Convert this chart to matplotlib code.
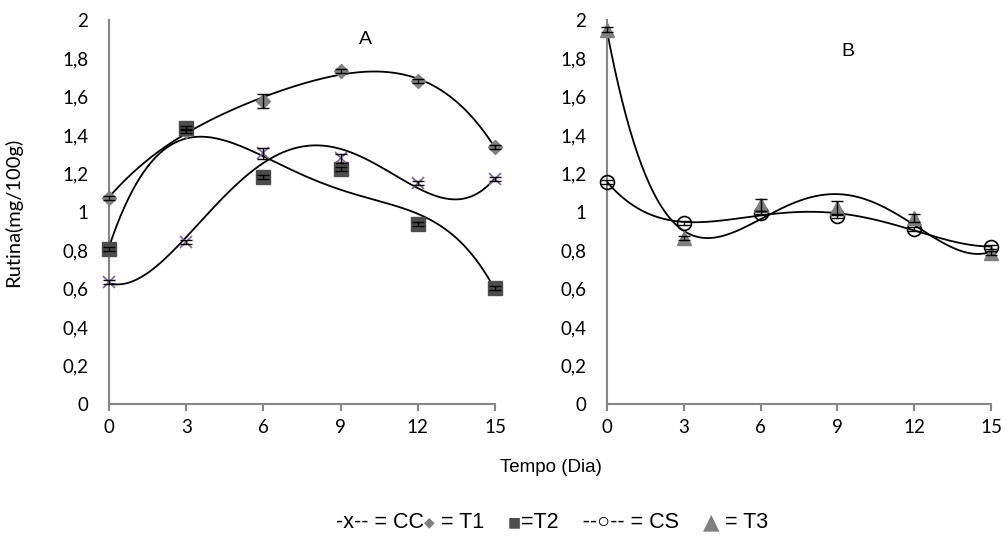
import numpy as np
import matplotlib
matplotlib.use("Agg")
import matplotlib.pyplot as plt

# ---- data ----
days = [0, 3, 6, 9, 12, 15]
cc = [0.634, 0.844, 1.305, 1.279, 1.149, 1.172]
cc_err = [0.01, 0.01, 0.03, 0.025, 0.01, 0.01]
t1 = [1.075, 1.42, 1.578, 1.736, 1.684, 1.337]
t1_err = [0.01, 0.01, 0.036, 0.01, 0.01, 0.01]
t2 = [0.807, 1.436, 1.184, 1.222, 0.9375, 0.606]
t2_err = [0.01, 0.01, 0.01, 0.01, 0.01, 0.01]
cs = [1.158, 0.941, 0.997, 0.979, 0.911, 0.819]
cs_err = [0.01, 0.01, 0.01, 0.01, 0.01, 0.01]
t3 = [1.95, 0.865, 1.036, 1.02, 0.969, 0.786]
t3_err = [0.015, 0.01, 0.03, 0.035, 0.02, 0.01]
yticks = [0, 0.2, 0.4, 0.6, 0.8, 1, 1.2, 1.4, 1.6, 1.8, 2]
ytick_labels = ["0", "0,2", "0,4", "0,6", "0,8", "1", "1,2", "1,4", "1,6", "1,8", "2"]

W, H = 1008, 546
fig = plt.figure(figsize=(W / 100, H / 100), dpi=100)

AXC = "#868686"
TICKFONT = "Lato"
TXTFONT = "Liberation Sans"


def make_ax(left_px, right_px):
    ax = fig.add_axes([left_px / W, 1 - 404 / H, (right_px - left_px) / W, (404 - 20) / H])
    ax.set_xlim(0, 15)
    ax.set_ylim(0, 2)
    for s in ["top", "right"]:
        ax.spines[s].set_visible(False)
    for s in ["left", "bottom"]:
        ax.spines[s].set_color(AXC)
        ax.spines[s].set_linewidth(1.5)
    ax.set_xticks(days)
    ax.set_xticklabels([str(d) for d in days], fontfamily=TICKFONT, fontsize=13.5)
    ax.set_yticks(yticks)
    ax.set_yticklabels(ytick_labels, fontfamily=TICKFONT, fontsize=13.5)
    ax.tick_params(axis="x", direction="out", length=5, width=1.5, color=AXC, pad=6)
    ax.tick_params(axis="y", length=0, pad=15)
    ax.patch.set_alpha(0)
    return ax


def series(ax, y, err, fmt_kw):
    x = np.array(days, float)
    yv = np.array(y, float)
    coef = np.polyfit(x, yv, 4)
    xs = np.linspace(0, 15, 300)
    ax.plot(xs, np.polyval(coef, xs), color="black", lw=1.3, zorder=2, clip_on=False)
    ax.errorbar(x, yv, yerr=err, fmt="none", ecolor="black", elinewidth=1.0,
                capsize=4, capthick=1.0, zorder=4, clip_on=False)
    ax.plot(x, yv, linestyle="none", zorder=3, clip_on=False, **fmt_kw)


axA = make_ax(109, 495)
series(axA, t1, t1_err, dict(marker="D", ms=7, color="#808080", mec="#808080"))
series(axA, t2, t2_err, dict(marker="s", ms=9.5, color="#4d4d4d", mec="#4d4d4d"))
series(axA, cc, cc_err, dict(marker="x", ms=9, color="#7f63a8", mew=1.2))
fig.text(365 / W, 1 - 40 / H, "A", ha="center", va="center",
         fontfamily=TXTFONT, fontsize=14)
axA.set_ylabel("Rutina(mg/100g)", fontfamily=TICKFONT, fontsize=14.5)
axA.yaxis.set_label_coords(22 / W, 1 - 212 / H, transform=fig.transFigure)

axB = make_ax(607, 991)
series(axB, cs, cs_err, dict(marker="o", ms=10, mfc="none", mec="black", mew=1.2))
series(axB, t3, t3_err, dict(marker="^", ms=10, color="#808080", mec="#808080"))
fig.text(848 / W, 1 - 52 / H, "B", ha="center", va="center", fontfamily=TXTFONT, fontsize=14)

fig.text(551 / W, 1 - 468 / H, "Tempo (Dia)", ha="center", va="center",
         fontfamily=TXTFONT, fontsize=13.5)

# legend line as sequential text pieces
pieces = [("-x-- = CC", "black"), ("\u25C6", "#808080"), (" = T1    ", "black"),
          ("\u25A0", "#4d4d4d"), ("=T2    --\u25CB-- = CS    ", "black"),
          ("\u25B2", "#808080"), (" = T3", "black")]
renderer = fig.canvas.get_renderer()
xpos = 336
ypos = 1 - 522 / H
for txt, col in pieces:
    fs = 15.5
    sym = txt[0] in "\u25C6\u25A0\u25B2"
    if txt in ("\u25C6", "\u25A0"):
        fs = 10
    t = fig.text(xpos / W, ypos, txt, ha="left", va="center", color=col,
                 fontfamily=["DejaVu Sans"] if sym else TXTFONT, fontsize=fs)
    bb = t.get_window_extent(renderer=renderer)
    xpos += bb.width

fig.savefig("out.png", dpi=100)
